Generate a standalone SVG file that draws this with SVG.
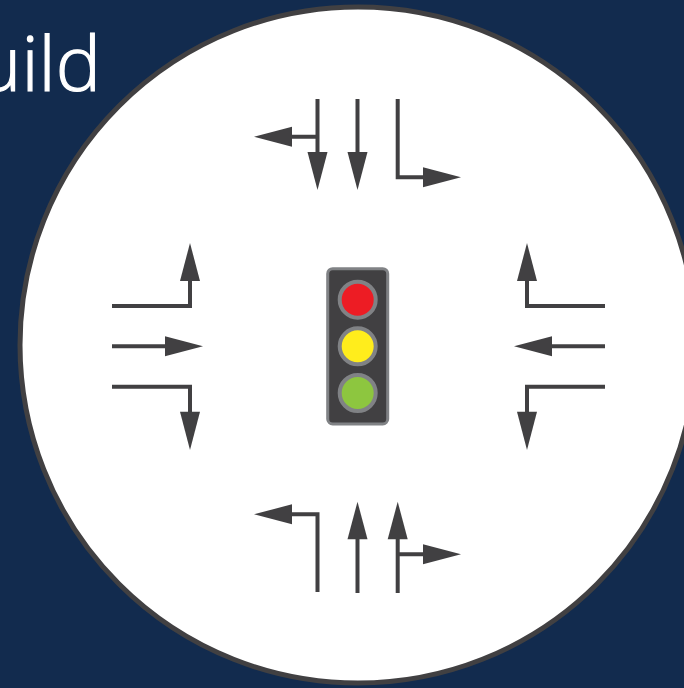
<svg xmlns="http://www.w3.org/2000/svg" width="684" height="688" viewBox="0 0 684 688">
<style>
.t{font-family:"Open Sans","Noto Sans","Liberation Sans",sans-serif;font-weight:300;font-size:76px;fill:#fff;stroke:#fff;stroke-width:1.2px}
.l{fill:none;stroke:#414042;stroke-width:4}
.h{fill:#414042}
.lamp{stroke:#808285;stroke-width:4}
</style>
<rect width="684" height="688" fill="#122b4e"/>
<text class="t" x="101" y="91" text-anchor="end">uild</text>
<circle id="dial" cx="358" cy="345" r="338" fill="#fff" stroke="#414042" stroke-width="5"/>
<g id="connectors">
<path class="l" d="M317.500 99V155M317.500 136.700H290"/>
<path class="h" d="M307.500 152H327.500L317.500 190Z"/>
<path class="h" d="M292 126.700V146.700L254 136.700Z"/>
<path class="l" d="M357.500 99V155"/>
<path class="h" d="M347.500 152H367.500L357.500 190Z"/>
<path class="l" d="M397.700 99V177.300H425"/>
<path class="h" d="M423 167.300V187.300L461 177.300Z"/>
<path class="l" d="M112 306H190V279"/>
<path class="h" d="M180 281H200L190 243Z"/>
<path class="l" d="M112 346.300H167"/>
<path class="h" d="M165 336.300V356.300L203 346.300Z"/>
<path class="l" d="M112 386.700H190V414"/>
<path class="h" d="M180 411.700H200L190 450Z"/>
<path class="l" d="M605 306H527V279"/>
<path class="h" d="M517 281H537L527 243Z"/>
<path class="l" d="M605 346.300H550"/>
<path class="h" d="M552 336.300V356.300L514 346.300Z"/>
<path class="l" d="M605 386.700H527V414"/>
<path class="h" d="M517 411.700H537L527 450Z"/>
<path class="l" d="M317.500 592V514.300H290"/>
<path class="h" d="M292 504.300V524.300L254 514.300Z"/>
<path class="l" d="M357.500 593V537"/>
<path class="h" d="M347.500 539.300H367.500L357.500 501.700Z"/>
<path class="l" d="M397.700 593V537M397.700 554.300H425"/>
<path class="h" d="M387.700 539.300H407.700L397.700 501.700Z"/>
<path class="h" d="M423 544.300V564.300L461 554.300Z"/>
</g>
<g id="traffic-light">
<rect x="327.700" y="268.700" width="60" height="155.300" rx="5" fill="#414042" stroke="#808285" stroke-width="3"/>
<circle class="lamp" cx="357.700" cy="299.700" r="18" fill="#ed1c24"/>
<circle class="lamp" cx="357.700" cy="346.300" r="18" fill="#ffed1c"/>
<circle class="lamp" cx="357.700" cy="393" r="18" fill="#8dc63f"/>
</g>
</svg>
